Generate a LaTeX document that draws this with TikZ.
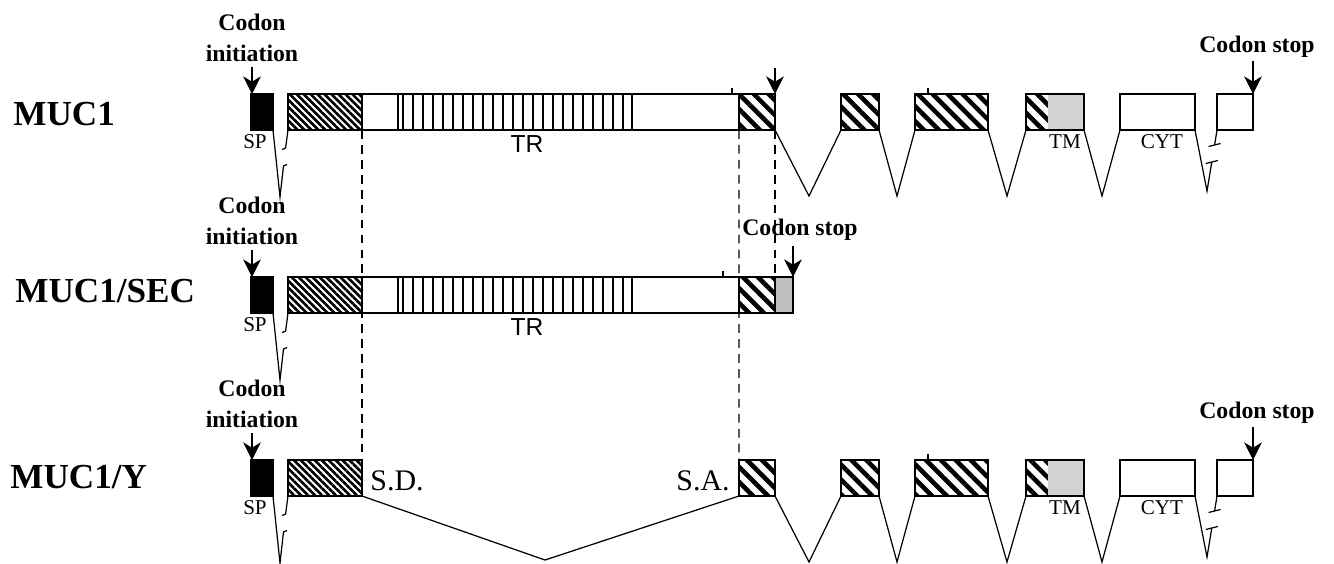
\documentclass[tikz,border=0pt]{standalone}
\usepackage{fontspec}
\setmainfont{Liberation Serif}
\newfontfamily\trfont{Liberation Sans}
\usetikzlibrary{fit,patterns.meta,arrows.meta}

\tikzset{
  exon/.style={draw, line width=0.8pt, inner sep=0pt, outer sep=0pt},
  finehatch/.style={pattern={Lines[angle=-45,distance=2.8pt,line width=1.5pt]}},
  coarsehatch/.style={pattern={Lines[angle=-45,distance=6pt,line width=2.6pt]}},
  intron/.style={line width=0.7pt},
  splice/.style={dash pattern=on 5pt off 3.5pt, line width=0.6pt},
  codon/.style={font=\fontsize{13.5}{17.6}\selectfont\bfseries, align=center, inner sep=0pt},
  pointer/.style={-{Stealth[length=10pt,width=10pt,inset=3pt]}, line width=0.7pt},
  rowname/.style={font=\fontsize{20}{24}\selectfont\bfseries, inner sep=0pt, anchor=base west},
  domlabel/.style={font=\fontsize{12}{14}\selectfont, inner sep=0pt},
  sitelabel/.style={font=\fontsize{17}{20}\selectfont, inner sep=0pt},
}

\begin{document}
\begin{tikzpicture}[x=0.2mm, y=-0.2mm]
  \useasboundingbox (0,0) rectangle (1334,563);

  % row names
  \node[rowname] (muc1) at (13,125) {MUC1};
  \node[rowname] (muc1sec) at (15,302) {MUC1/SEC};
  \node[rowname] (muc1y) at (10,488) {MUC1/Y};

  % SP + first exon, all three forms
  \foreach \r/\dy in {1/0,2/183,3/366} {
    \node[exon, fill=black, fit={(251,94+\dy)(273,130+\dy)}] (sp\r) {};
    \node[exon, finehatch, fit={(288,94+\dy)(362,130+\dy)}] (fh\r) {};
    \node[domlabel] (spl\r) at (255,142+\dy) {SP};
    \node[codon, anchor=south] (ci\r) at (252,62+\dy) {Codon\\initiation};
    \draw[pointer, shorten <=3pt] (ci\r.south) -- (ci\r.south |- sp\r.north);
    \coordinate (spv\r) at (280,197+\dy);
    \draw[intron] (sp\r.south east) -- (spv\r) -- (283.5,166+\dy) -- ++(3.5,-1.5);
    \draw[intron] (fh\r.south west) -- (285.6,148+\dy) -- ++(-3.5,1.5);
  }

  % tandem repeat region
  \foreach \r/\dy in {1/0,2/183} {
    \node[exon, fit={(362,94+\dy)(739,130+\dy)}] (tr\r) {};
    \foreach \x in {398,403,413,423,...,623,632}
      \draw[line width=0.6pt] (\x,94+\dy) -- (\x,130+\dy);
    \node[font=\trfont\fontsize{14}{16}\selectfont, inner sep=0pt] (trl\r) at (527,144+\dy) {TR};
  }

  % MUC1 and MUC1/Y, downstream exons
  \foreach \r/\dy in {1/0,3/366} {
    \node[exon, coarsehatch, fit={(739,94+\dy)(775,130+\dy)}] (ea\r) {};
    \node[exon, coarsehatch, fit={(841,94+\dy)(879,130+\dy)}] (eb\r) {};
    \node[exon, coarsehatch, fit={(915,94+\dy)(988,130+\dy)}] (ec\r) {};
    \node[coarsehatch, inner sep=0pt, fit={(1026,94+\dy)(1048,130+\dy)}] (ed\r) {};
    \node[fill=gray!35, inner sep=0pt, fit={(1048,94+\dy)(1084,130+\dy)}] (tm\r) {};
    \node[exon, fit={(1026,94+\dy)(1084,130+\dy)}] (ex\r) {};
    \node[exon, fit={(1120,94+\dy)(1195,130+\dy)}] (cyt\r) {};
    \node[exon, fit={(1217,94+\dy)(1253,130+\dy)}] (eg\r) {};
    \node[domlabel] (tml\r) at (1065,142+\dy) {TM};
    \node[domlabel] (cytl\r) at (1162,142+\dy) {CYT};
    \coordinate (va\r) at (809,196+\dy);
    \coordinate (vb\r) at (897,196+\dy);
    \coordinate (vc\r) at (1007,196+\dy);
    \coordinate (vd\r) at (1102,196+\dy);
    \coordinate (ve\r) at (1207,191+\dy);
    \draw[intron] (ea\r.south east) -- (va\r) -- (eb\r.south west);
    \draw[intron] (eb\r.south east) -- (vb\r) -- (ec\r.south west);
    \draw[intron] (ec\r.south east) -- (vc\r) -- (ex\r.south west);
    \draw[intron] (ex\r.south east) -- (vd\r) -- (cyt\r.south west);
    % broken intron
    \draw[intron] (cyt\r.south east) -- (ve\r) -- (1211.8,162+\dy) ++(-6,1.5) -- ++(12,-3);
    \draw[intron] (eg\r.south west) -- (1214.6,145+\dy) ++(-6,1.5) -- ++(12,-3);
    \draw[line width=0.6pt] (928,88+\dy) -- (928,94+\dy);
    \node[codon, anchor=base] (cs\r) at (1257,52+\dy) {Codon stop};
    \coordinate (st\r) at (1253,61+\dy);
    \draw[pointer] (st\r) -- (eg\r.north east);
  }
  \draw[line width=0.6pt] (732,88) -- (732,94);
  \coordinate (ar1) at (775,68);
  \draw[pointer] (ar1) -- (ea1.north east);

  % MUC1/SEC end
  \node[exon, coarsehatch, fit={(739,277)(775,313)}] (ea2) {};
  \node[exon, fill=gray!50, fit={(775,277)(793,313)}] (gr2) {};
  \draw[line width=0.6pt] (723,271) -- (723,277);
  \node[codon, anchor=base] (cs2) at (800,235) {Codon stop};
  \coordinate (st2) at (793,246);
  \draw[pointer] (st2) -- (gr2.north east);

  % MUC1/Y splice
  \coordinate (sdv) at (545,560);
  \draw[intron] (fh3.south east) -- (sdv) -- (ea3.south west);
  \node[sitelabel] (sd) at (397,481) {S.D.};
  \node[sitelabel] (sa) at (703,481) {S.A.};

  % dashed guides
  \draw[splice] (fh1.south east) -- (fh3.north east);
  \draw[splice] (tr1.south east) -- (ea3.north west);
  \draw[splice] (ea1.south east) -- (ea2.north east);
\end{tikzpicture}
\end{document}
